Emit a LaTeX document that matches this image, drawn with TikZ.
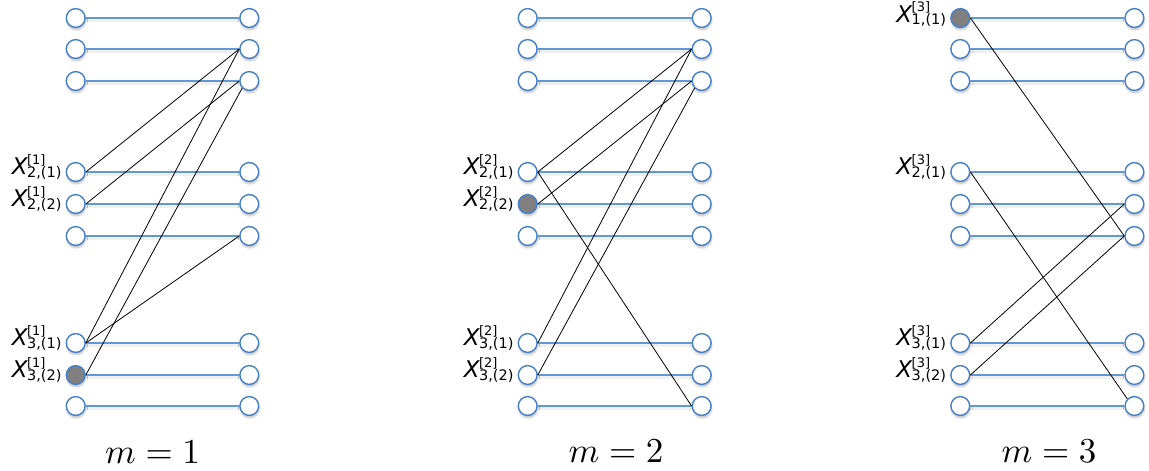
\documentclass[tikz,border=0pt]{standalone}
\usepackage{fontspec}
\newfontfamily\labfont{DejaVu Sans}
\usetikzlibrary{shadows.blur}
\definecolor{cblue}{RGB}{68,128,200}
\definecolor{lblue}{RGB}{98,152,212}
\definecolor{fillgray}{RGB}{128,128,128}
\tikzset{
  circ/.style={circle, draw=cblue, line width=1.4pt, minimum size=18.8pt, inner sep=0pt,
    blur shadow={shadow xshift=0.5pt, shadow yshift=-2.5pt, shadow blur radius=2pt, shadow opacity=25}},
  hline/.style={draw=lblue, line width=1.3pt},
  lshadow/.style={draw=black!6, line width=3pt},
  conn/.style={draw=black, line width=0.8pt},
  mlab/.style={anchor=base, inner sep=0pt, scale=3.5},
  xlab/.style={anchor=base east, inner sep=0pt},
}
\newcommand\panel[4]{% prefix, left x, right x, filled row
  \foreach \r/\y in {1/18,2/49,3/81,4/172,5/204,6/236,7/343,8/375,9/406}{
    \ifnum\r=#4 \def\fc{fillgray}\else\def\fc{white}\fi
    \draw[lshadow] ({#2+10},{\y+2.5}) -- ({#3-10},{\y+2.5});
    \node[circ, fill=\fc] (#1L\r) at (#2,\y) {};
    \node[circ, fill=white] (#1R\r) at (#3,\y) {};
    \draw[hline] (#1L\r.east) -- (#1R\r.west);
  }}
\newcommand\xl[5][5]{% [down shift], node, sup, sub, name
  \node[xlab] (#5) at ([xshift=-14pt,yshift=-#1pt]#2.center)
    {\raisebox{2.5pt}{\fontsize{23}{25}\labfont\itshape X}\kern-0.5pt\rlap{\raisebox{13pt}{\fontsize{13}{15}\labfont [#3]}}{\fontsize{14.5}{16}\labfont #4}};}
\begin{document}
\begin{tikzpicture}[x=1pt,y=-1pt]
\useasboundingbox (0,0) rectangle (1149,471);
\panel{a}{75.7}{249.3}{8}
\panel{b}{527.7}{701.7}{5}
\panel{c}{960.3}{1134.4}{1}
% panel 1
\draw[conn] (aL4.east) -- (aR2.west);
\draw[conn] (aL5.east) -- (aR3.west);
\draw[conn] (aL7.east) -- (aR2.west);
\draw[conn] (aL7.east) -- (aR6.west);
\draw[conn] (aL8.east) -- (aR3.south west);
% panel 2
\draw[conn] (bL4.east) -- (bR2.west);
\draw[conn] (bL4.east) -- (bR9.west);
\draw[conn] (bL5.east) -- (bR3.west);
\draw[conn] (bL7.east) -- (bR2.west);
\draw[conn] (bL8.east) -- (bR3.south west);
% panel 3
\draw[conn] (cL1.east) -- (cR6.west);
\draw[conn] (cL4.east) -- (cR9.north west);
\draw[conn] (cL7.east) -- (cR5.west);
\draw[conn] (cL8.east) -- (cR6.west);
% labels
\xl{aL4}{1}{2,(1)}{la4}
\xl{aL5}{1}{2,(2)}{la5}
\xl{aL7}{1}{3,(1)}{la7}
\xl{aL8}{1}{3,(2)}{la8}
\xl{bL4}{2}{2,(1)}{lb4}
\xl{bL5}{2}{2,(2)}{lb5}
\xl{bL7}{2}{3,(1)}{lb7}
\xl{bL8}{2}{3,(2)}{lb8}
\xl[6.5]{cL1}{3}{1,(1)}{lc1}
\xl{cL4}{3}{2,(1)}{lc4}
\xl{cL7}{3}{3,(1)}{lc7}
\xl{cL8}{3}{3,(2)}{lc8}
\node[mlab] (m1) at (152.5,463) {$m=1$};
\node[mlab] (m2) at (616,462) {$m=2$};
\node[mlab] (m3) at (1049,462) {$m=3$};
\end{tikzpicture}
\end{document}
